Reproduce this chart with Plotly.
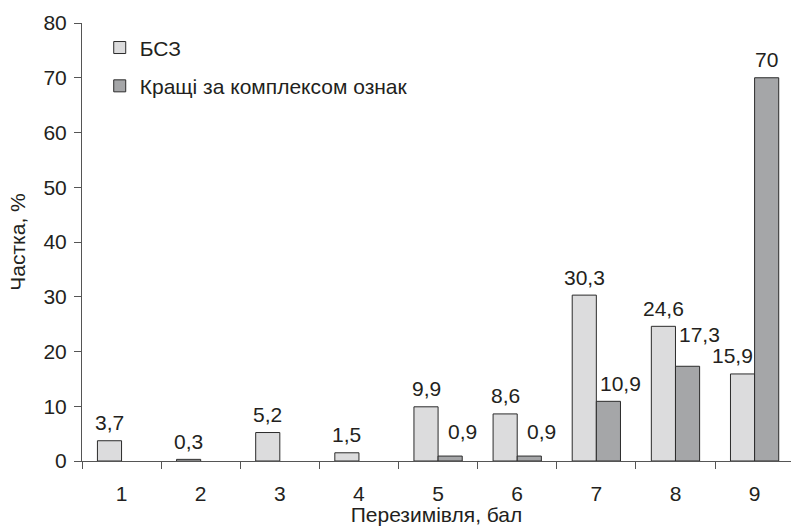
import plotly.graph_objects as go

# Winter-hardiness score categories and the share of samples per score
categories = ["1", "2", "3", "4", "5", "6", "7", "8", "9"]
bsz_share = [3.7, 0.3, 5.2, 1.5, 9.9, 8.6, 30.3, 24.6, 15.9]
best_share = [None, None, None, None, 0.9, 0.9, 10.9, 17.3, 70]
series_names = ["БСЗ", "Кращі за комплексом ознак"]
y_ticks = [0, 10, 20, 30, 40, 50, 60, 70, 80]

FONT = "Liberation Sans, Arial, sans-serif"
TEXT = "#231f20"
AXIS = "#555555"
FILL_LIGHT = "#dcdcdd"
FILL_DARK = "#a5a6a8"
OUTLINE = "#2b2b2b"
FS = 21

fig = go.Figure()
fig.add_bar(x=categories, y=bsz_share, name=series_names[0], legendgroup="a",
            marker=dict(color=FILL_LIGHT, line=dict(color=OUTLINE, width=1)))
fig.add_bar(x=categories, y=best_share, name=series_names[1], legendgroup="b",
            marker=dict(color=FILL_DARK, line=dict(color=OUTLINE, width=1)))


def fmt(v):
    return f"{v:g}".replace(".", ",")


# value labels above each bar; x is the category index on the category axis
half_bar = 12
for i, (c, v) in enumerate(zip(categories, bsz_share)):
    dx = -half_bar - (10 if c == "9" else 0)
    fig.add_annotation(x=i, y=v, xref="x", yref="y", text=fmt(v),
                       showarrow=False, xshift=dx, yshift=18, yanchor="middle",
                       font=dict(family=FONT, size=FS, color=TEXT))
for i, (c, v) in enumerate(zip(categories, best_share)):
    if v is None:
        continue
    dx = half_bar + (0 if c == "9" else 12)
    dy = 18
    if v == 0.9:
        dy = 25
    elif c == "8":
        dy = 32
    fig.add_annotation(x=i, y=v, xref="x", yref="y", text=fmt(v),
                       showarrow=False, xshift=dx, yshift=dy, yanchor="middle",
                       font=dict(family=FONT, size=FS, color=TEXT))

fig.update_layout(
    width=791, height=526,
    margin=dict(l=82, r=0, t=23, b=65),
    paper_bgcolor="white", plot_bgcolor="white",
    font=dict(family=FONT, size=FS, color=TEXT),
    barmode="group", bargap=0.39, bargroupgap=0,
    showlegend=True,
    legend=dict(x=0.025, y=0.99, xanchor="left", yanchor="top",
                bgcolor="rgba(0,0,0,0)", traceorder="grouped",
                tracegroupgap=8, itemwidth=30,
                font=dict(family=FONT, size=FS, color=TEXT)),
)
# the last category runs slightly past the right edge of the frame
fig.update_xaxes(
    type="category", range=[-0.5, len(categories) - 0.54],
    showline=True, linecolor=AXIS, linewidth=1,
    ticks="outside", tickson="boundaries", ticklen=7, tickcolor=AXIS,
    showgrid=False, zeroline=False, ticklabelstandoff=14,
    title=dict(text="Перезимівля, бал", standoff=4,
               font=dict(family=FONT, size=FS, color=TEXT)),
)
fig.update_yaxes(
    range=[0, 80], tickvals=y_ticks, showline=True, linecolor=AXIS,
    linewidth=1, ticks="outside", ticklen=7, tickcolor=AXIS,
    showgrid=False, zeroline=False, ticklabelstandoff=3,
    title=dict(text="Частка, %", standoff=12,
               font=dict(family=FONT, size=FS, color=TEXT)),
)

fig.write_html("out.html")
